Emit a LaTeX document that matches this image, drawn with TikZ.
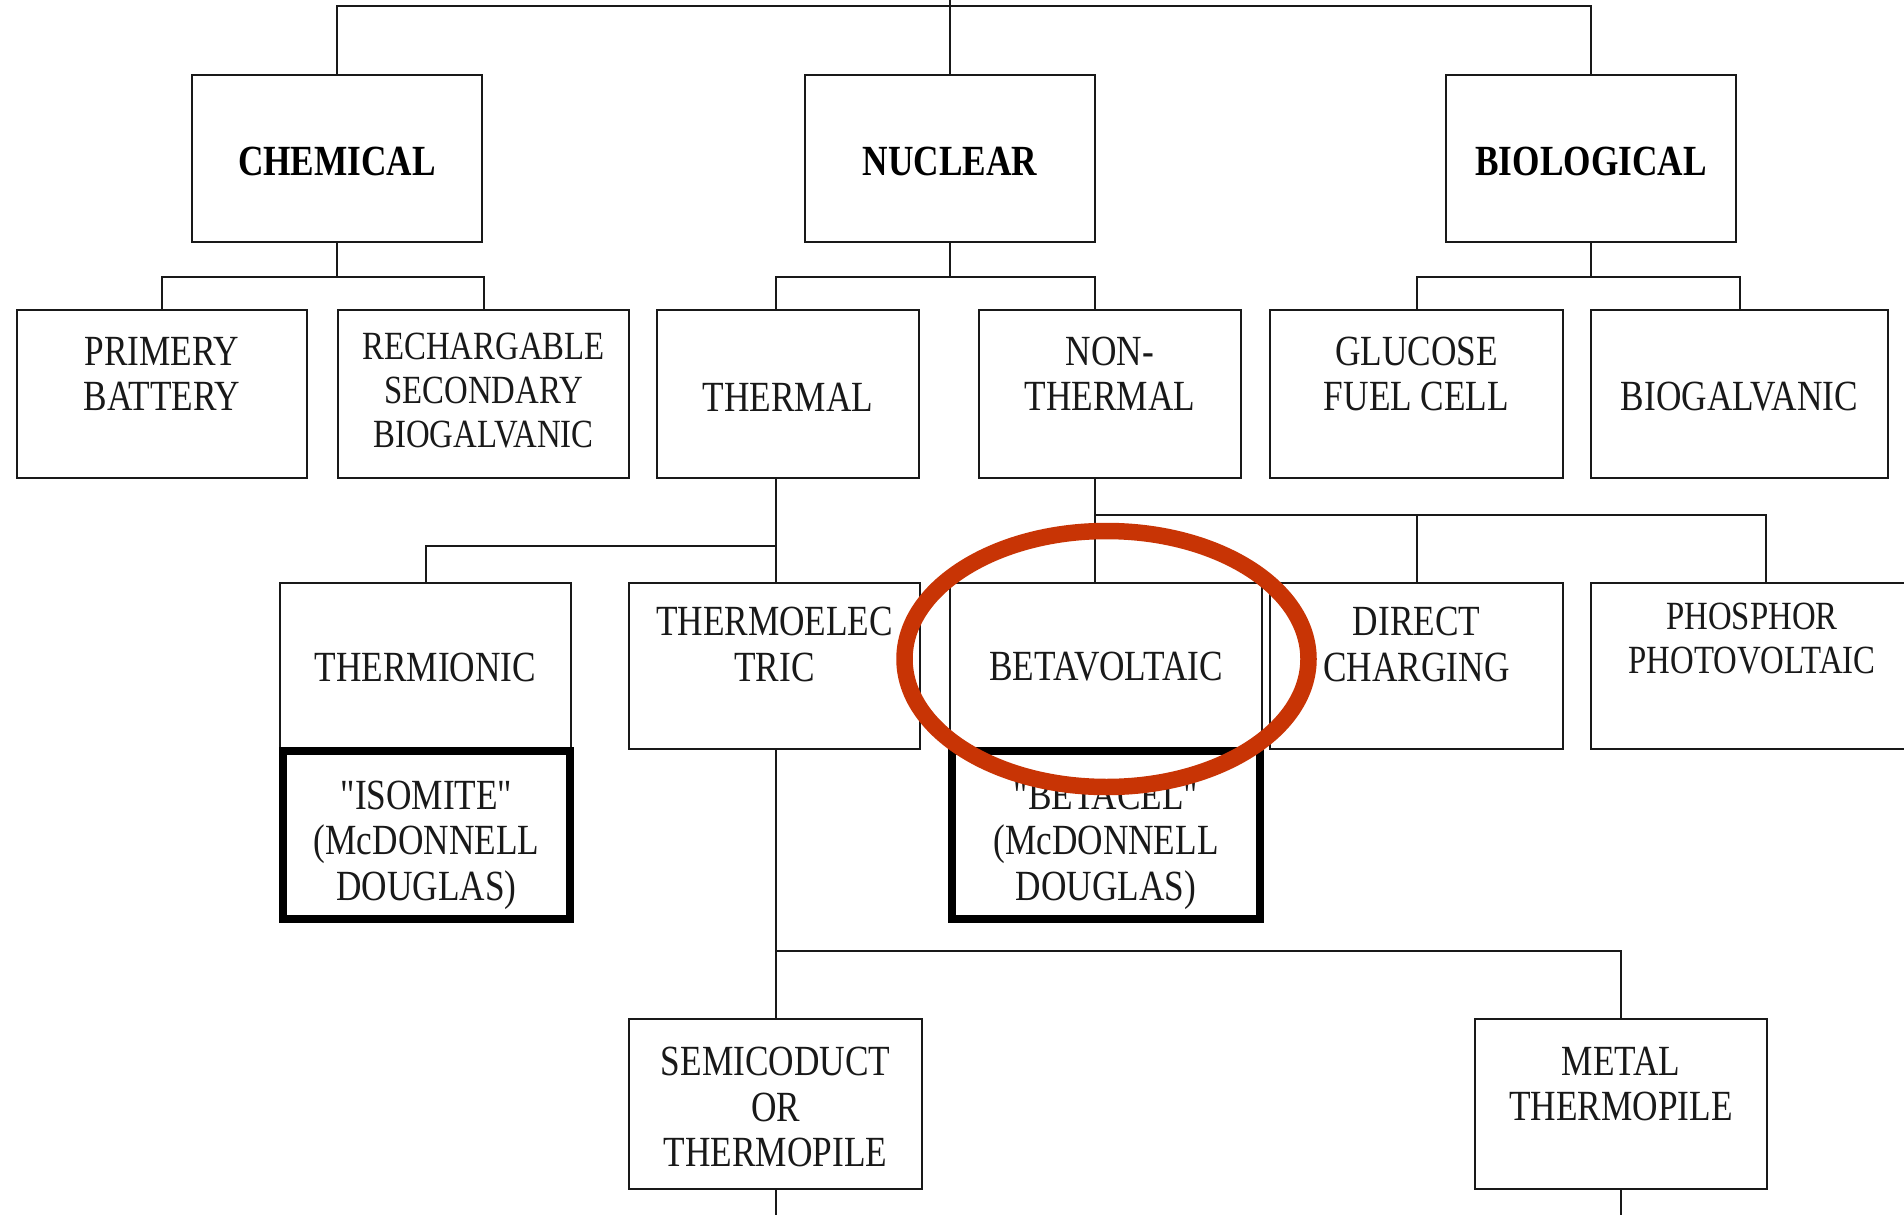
\documentclass[tikz,border=0pt]{standalone}
\usepackage{fontspec}
\setmainfont{Liberation Serif}[FakeStretch=0.82, Ligatures=TeXOff]
\definecolor{ringred}{RGB}{200,52,5}
\definecolor{ink}{RGB}{25,25,25}
\begin{document}
\begin{tikzpicture}[x=1pt,y=-1pt,
  box/.style 2 args={draw=ink, line width=2pt, inner sep=0pt, minimum width=#1pt, minimum height=#2pt},
  thickbox/.style 2 args={draw=black, line width=8pt, inner sep=0pt, minimum width=#1pt, minimum height=#2pt},
  lbl/.style={align=center, inner sep=0pt, text=ink, font=\fontsize{43}{45.5}\selectfont},
  slbl/.style={align=center, inner sep=0pt, text=ink, font=\fontsize{40}{44}\selectfont},
  blbl/.style={align=center, inner sep=0pt, text=black, font=\fontsize{43}{45.5}\selectfont\bfseries},
  conn/.style={draw=ink, line width=2pt, line join=miter}]
\fill[white] (0,0) rectangle (1904,1215);
\useasboundingbox (0,0) rectangle (1904,1215);

% helper coordinates
\coordinate (topend) at (950,0);
\coordinate (tbus) at (0,6);
\coordinate (cb) at (0,277);
\coordinate (tv) at (776,0);
\coordinate (nv) at (1095,0);
\coordinate (pv) at (1766,0);
\coordinate (tb) at (0,546);
\coordinate (nb) at (0,515);
\coordinate (lb) at (0,951);
\coordinate (bot) at (0,1215);
\coordinate (ring) at (1106.5,659);

% level 1
\node[box={290}{167}] (chem) at (337,158.5) {};
\node[box={290}{167}] (nuc) at (950,158.5) {};
\node[box={290}{167}] (bio) at (1591,158.5) {};
% level 2
\node[box={290}{168}] (prim) at (162,394) {};
\node[box={291}{168}] (rech) at (483.5,394) {};
\node[box={262}{168}] (therm) at (788,394) {};
\node[box={262}{168}] (nonth) at (1110,394) {};
\node[box={293}{168}] (gluc) at (1416.5,394) {};
\node[box={297}{168}] (biog) at (1739.5,394) {};
% level 3
\node[box={291}{166}] (thion) at (425.5,666) {};
\node[box={291}{166}] (tel) at (774.5,666) {};
\node[box={312}{166}] (beta) at (1106,666) {};
\node[box={293}{166}] (direct) at (1416.5,666) {};
\node[box={322}{166}] (phos) at (1752,666) {};
% level 4
\node[box={293}{170}] (semi) at (775.5,1104) {};
\node[box={292}{170}] (metal) at (1621,1104) {};
% thick boxes
\node[thickbox={287}{168}] (iso) at (426.5,835) {};
\node[thickbox={308}{168}] (betacel) at (1106,835) {};

% connectors
\draw[conn] (topend) -- (nuc.north);
\draw[conn] (chem.north) -- (chem.north |- tbus) -- (bio.north |- tbus) -- (bio.north);
\draw[conn] (chem.south) -- (chem.south |- cb);
\draw[conn] (prim.north) -- (prim.north |- cb) -- (rech.north |- cb) -- (rech.north);
\draw[conn] (nuc.south) -- (nuc.south |- cb);
\draw[conn] (therm.north -| tv) -- (tv |- cb) -- (nv |- cb) -- (nonth.north -| nv);
\draw[conn] (bio.south) -- (bio.south |- cb);
\draw[conn] (gluc.north) -- (gluc.north |- cb) -- (biog.north |- cb) -- (biog.north);
\draw[conn] (therm.south -| tv) -- (tel.north -| tv);
\draw[conn] (tv |- tb) -- (thion.north |- tb) -- (thion.north);
\draw[conn] (nonth.south -| nv) -- (beta.north -| nv);
\draw[conn] (nv |- nb) -- (pv |- nb) -- (phos.north -| pv);
\draw[conn] (direct.north) -- (direct.north |- nb);
\draw[conn] (tel.south -| tv) -- (semi.north -| tv);
\draw[conn] (tv |- lb) -- (metal.north |- lb) -- (metal.north);
\draw[conn] (semi.south -| tv) -- (tv |- bot);
\draw[conn] (metal.south) -- (metal.south |- bot);

% texts
\node[blbl] (chemT) at (337,161) {CHEMICAL};
\node[blbl] (nucT) at (950,161) {NUCLEAR};
\node[blbl] (bioT) at (1591,161) {BIOLOGICAL};
\node[lbl] (primT) at (162,374) {PRIMERY\\BATTERY};
\node[slbl] (rechT) at (483.5,391) {RECHARGABLE\\SECONDARY\\BIOGALVANIC};
\node[lbl] (thermT) at (788,397) {THERMAL};
\node[lbl] (nonthT) at (1110,374) {NON-\\THERMAL};
\node[lbl] (glucT) at (1416.5,374) {GLUCOSE\\FUEL CELL};
\node[lbl] (biogT) at (1739.5,397) {BIOGALVANIC};
\node[lbl] (thionT) at (425.5,667) {THERMIONIC};
\node[lbl] (telT) at (774.5,644.5) {THERMOELEC\\TRIC};
\node[lbl] (betaT) at (1106,667) {BETAVOLTAIC};
\node[lbl] (directT) at (1416.5,644.5) {DIRECT\\CHARGING};
\node[slbl] (phosT) at (1752,639) {PHOSPHOR\\PHOTOVOLTAIC};
\node[lbl] (isoT) at (426.5,845) {"ISOMITE"\\(McDONNELL\\DOUGLAS)};
\node[lbl] (betacelT) at (1106,845) {"BETACEL"\\(McDONNELL\\DOUGLAS)};
\node[lbl] (semiT) at (775.5,1107) {SEMICODUCT\\OR\\THERMOPILE};
\node[lbl] (metalT) at (1621,1084) {METAL\\THERMOPILE};

% red highlight ring
\draw[draw=ringred, line width=16.5pt] (ring) ellipse [x radius=202pt, y radius=128pt];
\end{tikzpicture}
\end{document}
